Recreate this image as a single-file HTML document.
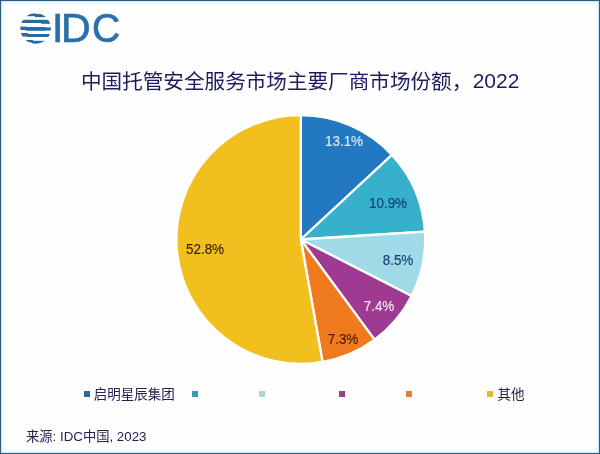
<!DOCTYPE html>
<html lang="zh-CN">
<head>
<meta charset="utf-8">
<title>IDC</title>
<style>
html,body{margin:0;padding:0;}
body{width:600px;height:454px;overflow:hidden;background:#fefefe;position:relative;font-family:"Liberation Sans","Noto Sans CJK SC",sans-serif;}
.frame{position:absolute;left:0;top:0;width:598px;height:452px;border:1px solid #2f5a7c;box-shadow:inset 0 0 0 1px #cbebfb, inset 0 0 3px 2px #e2f4fd;}
.abs{position:absolute;white-space:nowrap;line-height:1;}
.logo{top:5.6px;font-size:41px;color:#2a6fae;letter-spacing:0px;line-height:44px;-webkit-text-stroke:0.7px #2a6fae;}
.title{left:81px;top:70px;font-size:20.6px;line-height:24px;color:#1c1c5c;}
.lbl{font-size:14.1px;transform:translate(-50%,-50%) scaleX(0.955);-webkit-text-stroke:0.12px currentColor;}
.leg{font-size:13.5px;color:#22224e;line-height:16px;}
.sq{position:absolute;width:6px;height:5.6px;top:391.2px;}
.src{left:26px;top:429px;font-size:13.3px;line-height:16px;color:#22224e;}
svg{position:absolute;left:0;top:0;}
</style>
</head>
<body>
<div class="frame"></div>
<svg width="600" height="454" viewBox="0 0 600 454">
<g stroke="#ffffff" stroke-width="2.3" stroke-linejoin="round">
<path d="M300.8 239.5L300.80 115.15A124.35 124.35 0 0 1 391.98 154.95Z" fill="#2279c2"/>
<path d="M300.8 239.5L391.98 154.95A124.35 124.35 0 0 1 424.90 231.69Z" fill="#36b0cb"/>
<path d="M300.8 239.5L424.90 231.69A124.35 124.35 0 0 1 411.60 295.95Z" fill="#9fdae6"/>
<path d="M300.8 239.5L411.60 295.95A124.35 124.35 0 0 1 374.52 339.64Z" fill="#9e3a92"/>
<path d="M300.8 239.5L374.52 339.64A124.35 124.35 0 0 1 322.56 361.93Z" fill="#f07b1f"/>
<path d="M300.8 239.5L322.56 361.93A124.35 124.35 0 1 1 300.80 115.15Z" fill="#f1bf1e"/>
</g>
<!-- IDC globe -->
<defs><clipPath id="gc"><circle cx="35.6" cy="28.5" r="15.3"/></clipPath></defs>
<g clip-path="url(#gc)" fill="#2a6a9f">
<rect x="20" y="13.2" width="16" height="3.0"/><rect x="35" y="14.0" width="17" height="3.2"/>
<rect x="20" y="19.8" width="22" height="3.2"/><rect x="41" y="19.8" width="11" height="4.0"/>
<rect x="20" y="26.6" width="7" height="3.4"/><rect x="26" y="27.0" width="19" height="3.8"/><rect x="44" y="27.4" width="8" height="3.1"/>
<rect x="20" y="33.0" width="8" height="3.6"/><rect x="27" y="34.0" width="25" height="3.0"/>
<rect x="20" y="40.0" width="13" height="2.6"/><rect x="32" y="40.8" width="20" height="3.0"/>
</g>
</svg>
<div class="abs logo" style="left:51.9px;">I<span style="margin-left:-2.4px;">D</span><span style="display:inline-block;margin-left:1.4px;transform:scaleX(0.95);transform-origin:0 50%;">C</span></div>
<div class="abs title">中国托管安全服务市场主要厂商市场份额，<span style="position:relative;top:-1.3px;font-size:21px;margin-left:0.4px;">2022</span></div>

<div class="abs lbl" style="left:344.4px;top:141.3px;color:#dceefa;">13.1%</div>
<div class="abs lbl" style="left:388px;top:202.8px;color:#16387c;">10.9%</div>
<div class="abs lbl" style="left:398.2px;top:260px;color:#16387c;">8.5%</div>
<div class="abs lbl" style="left:378.7px;top:306.3px;color:#fbe6f6;">7.4%</div>
<div class="abs lbl" style="left:343px;top:338.8px;color:#4a1608;">7.3%</div>
<div class="abs lbl" style="left:204.6px;top:249px;color:#3c2008;">52.8%</div>

<div class="sq" style="left:83.8px;background:#2a6c9e;"></div>
<div class="abs leg" style="left:93.7px;top:387px;">启明星辰集团</div>
<div class="sq" style="left:192px;background:#3a9cb4;"></div>
<div class="sq" style="left:259px;background:#a8d4da;"></div>
<div class="sq" style="left:339px;background:#96408c;"></div>
<div class="sq" style="left:406.4px;background:#e0803a;"></div>
<div class="sq" style="left:487px;background:#e0bc28;"></div>
<div class="abs leg" style="left:497.5px;top:387px;">其他</div>

<div class="abs src">来源: IDC中国, 2023</div>
</body>
</html>
